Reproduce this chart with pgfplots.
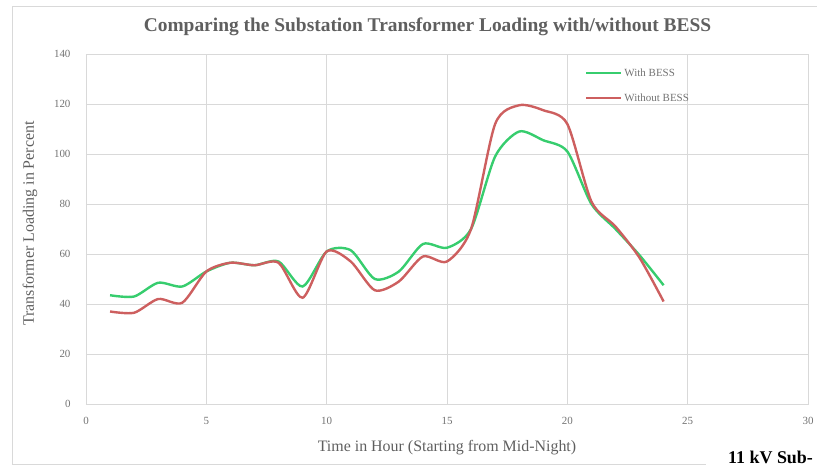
\documentclass[border=0pt]{standalone}
\usepackage{pgfplots}
\pgfplotsset{compat=1.18}
\usepackage{fontspec}
\setmainfont{Liberation Serif}
\definecolor{bessgreen}{RGB}{55,205,110}
\definecolor{bessred}{RGB}{205,95,95}
\definecolor{gridgray}{RGB}{217,217,217}
\definecolor{txtgray}{RGB}{95,95,95}
\definecolor{tickgray}{RGB}{115,115,115}
\begin{document}
\begin{tikzpicture}
\useasboundingbox (-86bp,-62bp) rectangle (731bp,404bp);
\draw[gridgray,line width=0.8bp] (-74bp,-60bp) -- (-74bp,398bp) -- (731bp,398bp);
\draw[gridgray,line width=0.8bp] (-74bp,-60bp) -- (620bp,-60bp);
\begin{axis}[
  anchor=south west, at={(0,0)},
  scale only axis, width=722bp, height=350bp,
  xmin=0, xmax=30, ymin=0, ymax=140,
  xtick={0,5,...,30}, ytick={0,20,...,140},
  grid=major, major grid style={gridgray, line width=0.7bp},
  axis line style={gridgray, line width=0.7bp},
  major tick length=0pt,
  /pgf/number format/assume math mode=true,
  tick label style={font=\fontsize{11}{13}\selectfont, text=tickgray},
  xticklabel style={yshift=-10bp},
  yticklabel style={xshift=-12bp},
  xlabel={Time in Hour (Starting from Mid-Night)},
  ylabel={Transformer Loading in Percent},
  label style={font=\fontsize{16}{18}\selectfont, text=txtgray},
  xlabel style={at={(rel axis cs:0.5,0)}, anchor=center, yshift=-44bp},
  ylabel style={at={(rel axis cs:0,0.516)}, anchor=center, yshift=56bp},
  legend style={draw=none, fill=none, inner sep=0pt, at={(0.691,0.965)}, anchor=north west,
    font=\fontsize{11}{13}\selectfont, text=tickgray, row sep=12bp},
  legend cell align=left,
  legend image code/.code={\draw[#1] (0bp,0bp) -- (35bp,0bp);},
  clip=false,
]
\addplot[bessgreen, line width=2.4bp, smooth, tension=0.45] coordinates {
(1,43.5) (2,43) (3,48.5) (4,47) (5,53) (6,56.5) (7,55.5) (8,57) (9,47)
(10,61) (11,61.5) (12,50) (13,53) (14,64) (15,62.5) (16,70) (17,99)
(18,109) (19,105.5) (20,101) (21,80) (22,70) (23,59.5) (24,47.5)};
\addlegendentry{With BESS}
\addplot[bessred, line width=2.4bp, smooth, tension=0.45] coordinates {
(1,37) (2,36.5) (3,42) (4,40.5) (5,53) (6,56.5) (7,55.5) (8,56.5) (9,42.5)
(10,61) (11,57) (12,45.5) (13,49) (14,59) (15,57) (16,70) (17,112)
(18,119.5) (19,117.5) (20,112) (21,81) (22,71) (23,58.5) (24,41)};
\addlegendentry{Without BESS}
\end{axis}
\node[font=\bfseries\fontsize{19.5}{21}\selectfont, text=txtgray] at (341.5bp,377bp) {Comparing the Substation Transformer Loading with/without BESS};
\node[font=\bfseries\fontsize{18}{20}\selectfont, anchor=base west, inner sep=0pt] at (642bp,-59bp) {11 kV Sub-};
\end{tikzpicture}
\end{document}
